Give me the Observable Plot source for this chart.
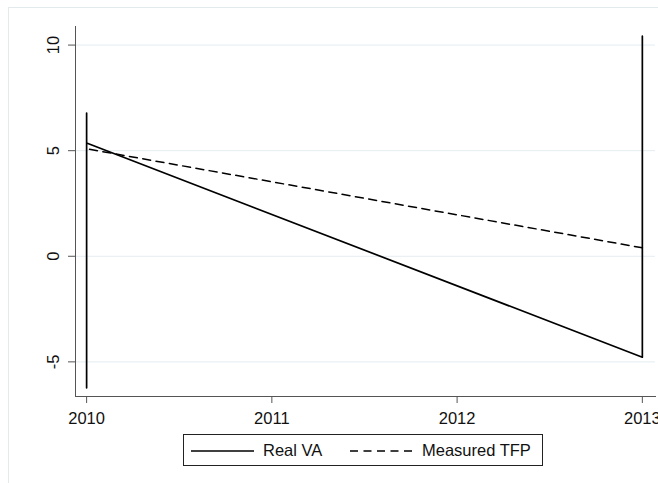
<!DOCTYPE html>
<html>
<head>
<meta charset="utf-8">
<script src="https://cdn.jsdelivr.net/npm/d3@7"></script>
<script src="https://cdn.jsdelivr.net/npm/@observablehq/plot@0.6"></script>
<style>
  html, body { margin: 0; padding: 0; background: #fff; }
  #wrap { position: relative; width: 658px; height: 483px; overflow: hidden; font-family: "Liberation Sans", Arial, sans-serif; }
  #outer { position: absolute; left: 8px; top: 7px; width: 720px; height: 520px; border: 1px solid #e3eaee; box-sizing: border-box; }
  #chart { position: absolute; left: 0; top: 0; }
  #legend { position: absolute; left: 183px; top: 434px; width: 360px; height: 32px; border: 1px solid #222; box-sizing: border-box; background: #fff; }
  #legend .item { position: absolute; top: 0; height: 30px; display: flex; align-items: center; font-size: 16.5px; color: #111; }
</style>
</head>
<body>
<div id="wrap">
  <div id="outer"></div>
  <div id="chart"></div>
  <div id="legend"></div>
</div>
<script>
// ---- data ----
const seriesNames = ["Real VA", "Measured TFP"];
const vaYears = [2010, 2010, 2010, 2013, 2013];
const vaValues = [6.78, -6.23, 5.36, -4.78, 10.42];
const tfpYears = [2010, 2013];
const tfpValues = [5.09, 0.40];
const xTicks = [2010, 2011, 2012, 2013];
const yTicks = [-5, 0, 5, 10];

const vaData = vaYears.map((x, i) => ({x, y: vaValues[i]}));
const tfpData = tfpYears.map((x, i) => ({x, y: tfpValues[i]}));

const axisColor = "#555";
const gridColor = "#e4ecf0";
const font = "Liberation Sans, Arial, sans-serif";

const chart = Plot.plot({
  width: 658,
  height: 430,
  marginLeft: 75,
  marginRight: 3,
  marginTop: 26,
  marginBottom: 34,
  style: {fontFamily: font, fontSize: "16px", color: "#111", background: "transparent"},
  x: {domain: [2009.94, 2013.071]},
  y: {domain: [-6.64, 10.88]},
  marks: [
    Plot.ruleY(yTicks, {stroke: gridColor, strokeWidth: 1}),
    Plot.frame({anchor: "left", stroke: axisColor}),
    Plot.frame({anchor: "bottom", stroke: axisColor}),
    Plot.axisX({ticks: xTicks, tickFormat: d => String(d), tickSize: 7, tickPadding: 9, stroke: axisColor, label: null, fontSize: 16.5}),
    Plot.axisY({ticks: yTicks, tickFormat: d => String(d), tickSize: 7, tickRotate: -90, tickPadding: 10, stroke: axisColor, label: null, fontSize: 16.5}),
    Plot.line(tfpData, {x: "x", y: "y", stroke: "#000", strokeWidth: 1.5, strokeDasharray: "8,5.5", strokeDashoffset: -3}),
    Plot.line(vaData, {x: "x", y: "y", stroke: "#000", strokeWidth: 1.7})
  ]
});
document.getElementById("chart").appendChild(chart);

// ---- legend ----
const legend = document.getElementById("legend");
const items = [
  {name: seriesNames[0], dash: null, lineLeft: 7, textLeft: 79},
  {name: seriesNames[1], dash: "8,5.5", lineLeft: 166, textLeft: 238}
];
items.forEach(it => {
  const sw = document.createElement("div");
  sw.className = "item";
  sw.style.left = it.lineLeft + "px";
  sw.innerHTML = `<svg width="63" height="30"><line x1="0" x2="63" y1="16" y2="16" stroke="#000" stroke-width="1.6" ${it.dash ? `stroke-dasharray="${it.dash}"` : ""}/></svg>`;
  legend.appendChild(sw);
  const tx = document.createElement("div");
  tx.className = "item";
  tx.style.left = it.textLeft + "px";
  tx.textContent = it.name;
  legend.appendChild(tx);
});
</script>
</body>
</html>
